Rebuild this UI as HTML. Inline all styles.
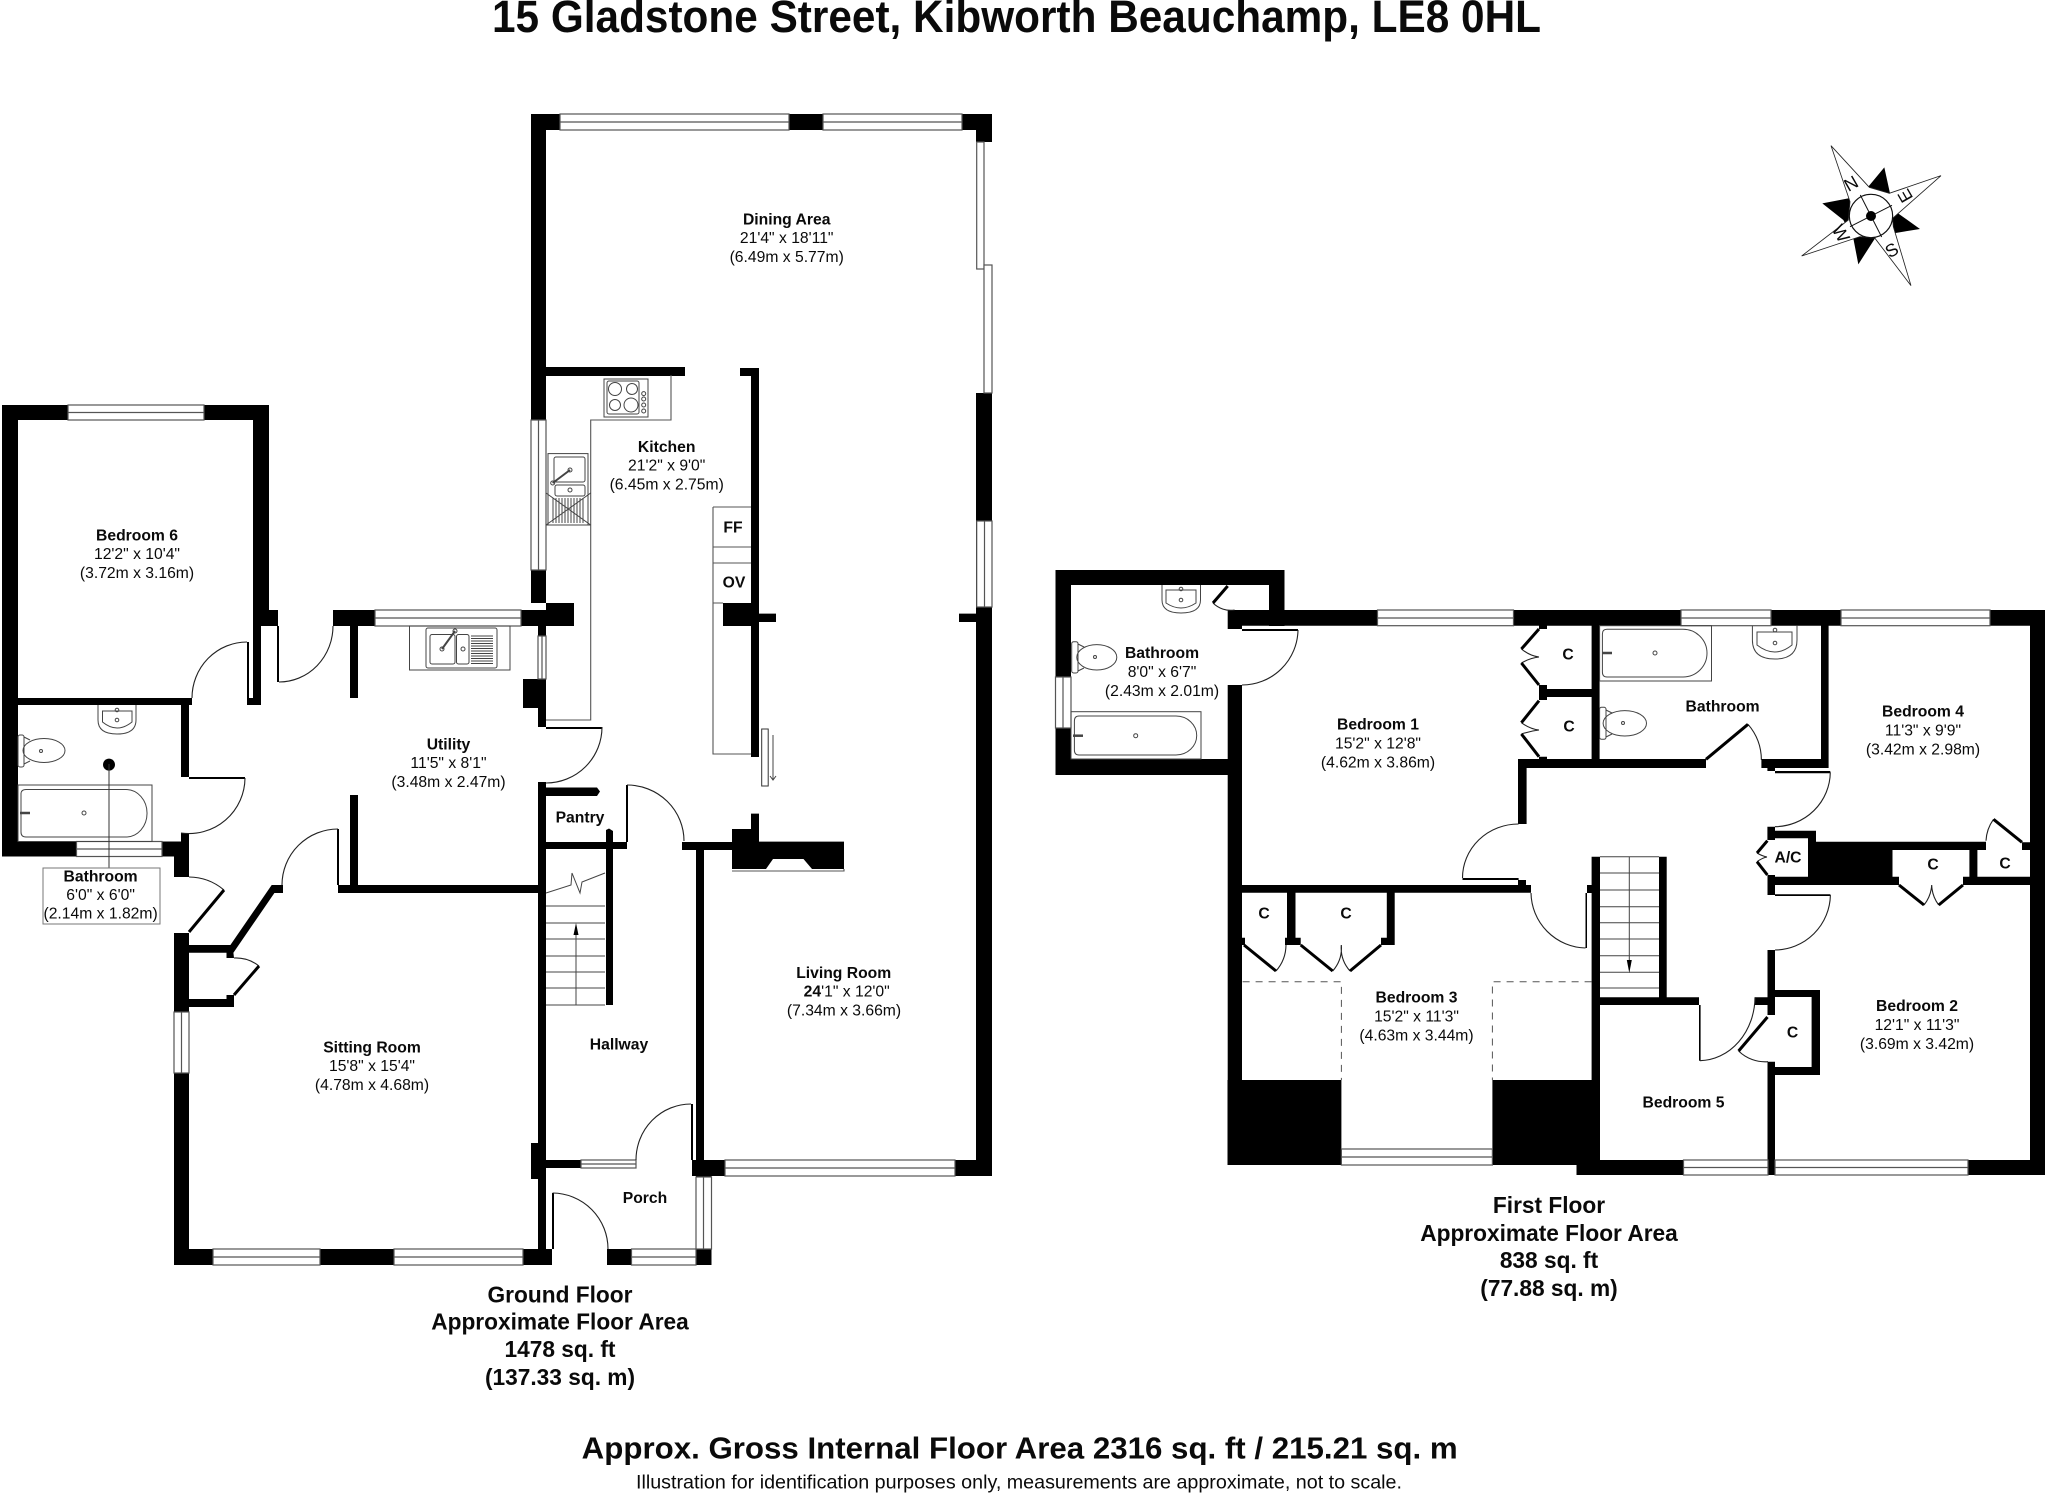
<!DOCTYPE html>
<html><head><meta charset="utf-8"><title>15 Gladstone Street floor plan</title>
<style>
html,body{margin:0;padding:0;background:#fff;width:2048px;height:1493px;overflow:hidden}
svg{display:block}
text{font-family:"Liberation Sans",Arial,sans-serif;fill:#0a0a0a}
.r text{font-size:15.7px;text-anchor:middle}
.b{font-weight:bold}
.w{fill:#fff;stroke:#555;stroke-width:1.2}
.m{stroke:#555;stroke-width:1.2;fill:none}
.a{fill:none;stroke:#222;stroke-width:1.1}
.l{fill:none;stroke:#000;stroke-width:3}
.f{fill:none;stroke:#444;stroke-width:1}
.g{fill:none;stroke:#555;stroke-width:1.1}
.d{fill:none;stroke:#555;stroke-width:1;stroke-dasharray:7 6}
.fl text{font-size:22.7px;font-weight:bold;text-anchor:middle}
</style></head><body>
<svg xmlns="http://www.w3.org/2000/svg" width="2048" height="1493" viewBox="0 0 2048 1493">
<rect width="2048" height="1493" fill="#fff"/>

<!-- title -->
<text x="492" y="32" font-size="45" font-weight="bold" textLength="1049" lengthAdjust="spacingAndGlyphs">15 Gladstone Street, Kibworth Beauchamp, LE8 0HL</text>

<!-- walls -->
<path fill="#000" d="
M2 405H68V420H2Z M204 405H269V420H204Z M2 405H18V856.5H2Z M253 405H269V610H253Z M253 610H278V626H253Z M253 626H261V705H253Z M247 698H261V705H247Z
M18 698H192V705H18Z M181 698H189V777H181Z M181 833H189V856.5H181Z M2 841.5H76.5V856.5H2Z M162 841.5H189V856.5H162Z M174 841.5H189V877H174Z
M333 610H375V626H333Z M350 626H358V698H350Z M350 795H358V885H350Z M338 885H546V893H338Z
M271.7 885H283V893H274.4L233.4 952.7L234 958H226.5V952.7H189V945H230.4Z
M174 933H189V1265H174Z M189 999H234V1007H189Z M226.5 995H234V1007H226.5Z
M531 114H546V603H531Z M521 610H546V626H521Z M546 603H574V626H546Z M538 626H546V727H538Z M538 782H546V1249H538Z M523 679H546V708H523Z M531 1143H546V1179H531Z
M546 1160H636V1168H546Z M174 1249H552V1265H174Z M607 1249H711.5V1265H607Z M692 1160H725V1176H692Z M696 1168H711.5V1177H696Z
M696 849H704V1160H696Z M682 842H732V850H682Z
M732 829H751V813.6H759V841.6H844V869H812L803.5 859H773L766 869H732Z
M751 368H759V757H751Z M740 368H759V376H740Z M546 367H685V376H546Z M723 603H751V626H723Z M759 613.6H776V622H759Z M959 613.6H977V622H959Z
M531 114H992V130H531Z M976 114H992V142H976Z M976 393H992V1176H976Z M955 1160H992V1176H955Z
M546 787.5H597L600 791.5L597 796H546Z M546 842H627V849H546Z M606 830L609 828.5L613 831V1005H606Z
M1055.5 570H1284.5V585H1055.5Z M1055.5 570H1071V775H1055.5Z M1055.5 759H1242V775H1055.5Z M1269 570H1284.5V626H1269Z M1227.7 610H2045V625.7H1227.7Z M1227.7 610H1242V629H1227.7Z M1227.7 685H1242V1165H1227.7Z
M1242 885H1531V892.7H1242Z M1539 625.7H1547V629H1539Z M1539 685H1547V700H1539Z M1539 689H1599V697H1539Z M1591.6 625.7H1599.6V768H1591.6Z M1539 756.7H1547V760H1539Z
M1518 759H1706V768H1518Z M1518 759H1526.6V824H1518Z M1518 880H1526V885H1518Z M1462.5 878H1518.6V880H1462.5Z
M1287 892.7H1295.5V945H1287Z M1285 937.7H1300.7V945H1285Z M1386.8 892.7H1394.7V945H1386.8Z M1381 937.7H1394.7V945H1381Z M1242 937.7H1245V945H1242Z
M1227.5 1080H1341.4V1165H1227.5Z M1492.4 1080H1600V1165H1492.4Z M1591.6 856.7H1600V1165H1591.6Z M1659 856.7H1666.7V1005H1659Z M1591.6 997.3H1699V1005H1591.6Z M1576.5 1160H1683.5V1175H1576.5Z
M1767.5 1061.7H1775V1175H1767.5Z M1767.5 950H1775V1015H1767.5Z M1755 997.3H1775V1005H1755Z M1767.5 875H1775V895H1767.5Z
M1775 990H1820V997H1775Z M1811.6 990H1820V1075H1811.6Z M1775 1067H1820V1075H1775Z
M1761.4 759H1828.6V768H1761.4Z M1821 625.7H1828.6V768H1821Z M1767.4 768H1775V771H1767.4Z M1775 771H1830.3V773.3H1775Z
M1767.4 826.7H1775V840H1767.4Z M1775 830.7H1816V838.3H1775Z M1808 830.7H1816V885H1808Z M1816 841.7H1892.5V885H1816Z M1775 876.7H1899V885H1775Z
M1892.5 841.7H1986V850H1892.5Z M1969.4 850H1977.4V885H1969.4Z M1963 876.7H2030V885H1963Z M2022 842.3H2030V850H2022Z M2030 610H2045V1175H2030Z M1968 1160H2045V1175H1968Z
M1587 885H1593V893H1587Z M1585.5 893H1587V948H1585.5Z
M1775 894.3H1830.4V896H1775Z M1699 1005H1700.6V1060.7H1699Z
M247 642H249V698H247Z M189 777H245V779H189Z M277 626H279V682H277Z M337 829H339V885H337Z M691 1104H693V1160H691Z M552 1193H554V1249H552Z M626 785H628V842H626Z M546 727H602V729H546Z M1242 629H1298V631H1242Z"/>

<!-- windows -->
<g class="w">
<rect x="68" y="405" width="136" height="15"/><rect x="76.5" y="841.5" width="85.5" height="15"/><rect x="375" y="610" width="146" height="16"/>
<rect x="213" y="1249" width="107" height="16"/><rect x="394" y="1249" width="129" height="16"/><rect x="631.5" y="1249" width="64.5" height="16"/>
<rect x="581" y="1160" width="55" height="8"/><rect x="560" y="114" width="229" height="16"/><rect x="823" y="114" width="139" height="16"/><rect x="725" y="1160" width="230" height="16"/>
<rect x="1377.5" y="610" width="136" height="15.7"/><rect x="1681" y="610" width="90" height="15.7"/><rect x="1841" y="610" width="149" height="15.7"/>
<rect x="1341.4" y="1149" width="151" height="16"/><rect x="1683.5" y="1160" width="84.5" height="15"/><rect x="1775" y="1160" width="193" height="15"/>
<rect x="174" y="1012" width="15" height="61"/><rect x="531" y="420" width="15" height="150"/><rect x="538" y="636" width="8" height="43"/><rect x="696" y="1177" width="15.5" height="72"/>
<rect x="976.7" y="142" width="7.3" height="127"/><rect x="984" y="265" width="8" height="128"/><rect x="976.7" y="521" width="15.3" height="86"/><rect x="1055.5" y="677" width="15.5" height="51"/>
</g>
<path class="m" d="M68 412.5H204M76.5 849H162M375 618H521M213 1257H320M394 1257H523M631.5 1257H696M581 1164H636M560 122H789M823 122H962M725 1168H955M1377.5 618H1513.5M1681 618H1771M1841 618H1990M1341.4 1157H1492.4M1683.5 1167.5H1768M1775 1167.5H1968M181.5 1012V1073M538.5 420V570M542 636V679M703.5 1177V1249M984.5 521V607M1063 677V728"/>

<!-- door arcs -->
<path class="a" d="M247 642A55 56 0 0 0 192 698M245 778A56 56 0 0 1 181 833M333 626A54 56 0 0 1 279 682M338 829A56 56 0 0 0 282 885M636 1160A55 56 0 0 1 691 1104M552.6 1193A56 56 0 0 1 608 1249M627 785A57 56 0 0 1 684 841M602 727A56 56 0 0 1 546 783M189 877A55 55 0 0 1 224 890M234 958A38 38 0 0 1 259 966
M1298 630A56 56 0 0 1 1242 685M1518.6 824A56 54 0 0 0 1462.5 878M1531 893A56 56 0 0 0 1585.5 948M1755 997.3A56 64 0 0 1 1700 1060.7M1830.4 895A56 56 0 0 1 1775 950M1830.3 772.3A56 55 0 0 1 1775 826.7
M1213 603A25 25 0 0 0 1234.6 610M1738.6 1051A38 38 0 0 0 1768 1061.7M1748 724.3A55 55 0 0 1 1761.4 760M1993.5 819.3A40 40 0 0 0 1986 840.7
M1276 971A40 40 0 0 0 1286 945M1332.7 971A35 35 0 0 0 1341.3 945M1341.3 945A35 35 0 0 0 1350 971M1924 905A35 35 0 0 0 1931.7 885M1931.7 885A35 35 0 0 0 1938.7 905
M1521.4 649Q1530 656 1539 657M1539 657Q1530 658 1521.4 663M1521.4 722.7Q1530 729 1539 730M1539 730Q1530 731 1521.4 734M1757 853Q1762 856 1767 857M1767 857Q1762 858 1757 861.7"/>
<!-- door leaves -->
<path class="l" d="M224 890L189 932M259 966L234 995M1227.7 586L1213 603M1539 629L1521.4 649M1539 685L1521.4 663M1539 700.7L1521.4 722.7M1539 756.7L1521.4 734M1244 945L1276 971M1300.7 945L1332.7 971M1350 971L1381 945M1706 759.3L1748 724.3M1767.5 1017L1738.6 1051M1767.4 840.7L1757 853M1757 861.7L1767.4 875M1899 885L1924 905M1938.7 905L1963 885M1993.5 819.3L2022 842.3"/>

<!-- stairs ground -->
<path class="f" d="M546 906H605M546 923H605M546 939H605M546 956H605M546 972H605M546 988H605M546 1005H605M576 1005V935M546 893L571 885L572 873L580 893L582 882L605 873"/>
<path d="M576 923L573.5 935H578.5Z" fill="#000"/>
<!-- stairs first -->
<path class="f" d="M1600 856.7H1659M1600 873H1659M1600 890H1659M1600 906.7H1659M1600 922.7H1659M1600 939H1659M1600 955.7H1659M1600 972.3H1659M1600 988H1659M1629.3 856.7V962"/>
<path d="M1629.3 973L1626.8 960H1631.8Z" fill="#000"/>

<!-- dashed eaves -->
<path class="d" d="M1242.6 981.7H1341.4V1080M1591.6 981.7H1492.4V1080"/>

<!-- kitchen counters -->
<path class="g" d="M671 375V420H590.7V720H546M713 507H751M713 547H751M713 563H751M713 507V754H751M713 603H723M732 871H844V869"/>
<rect x="761.7" y="729" width="6.5" height="57" fill="#fff" stroke="#333" stroke-width="1"/>
<path class="f" d="M773 735V780M770 776L773 780L776 776"/>
<!-- hob -->
<g class="f"><rect x="604" y="379" width="44" height="38"/><rect x="607" y="381" width="32" height="33" rx="2"/><circle cx="615" cy="389" r="6.5"/><circle cx="632" cy="389" r="5.5"/><circle cx="615" cy="405" r="5.5"/><circle cx="631" cy="405" r="7"/><circle cx="643.7" cy="393.6" r="2"/><circle cx="643.7" cy="399" r="2"/><circle cx="643.7" cy="405" r="2"/><circle cx="643.7" cy="411" r="2"/></g>
<!-- kitchen sink -->
<g class="f"><rect x="548" y="453.6" width="40" height="71.4"/><rect x="554" y="457" width="31" height="25" rx="2"/><rect x="555" y="485" width="30" height="11" rx="2"/><path d="M546 493L590.7 525M590.7 493L546 525M546 525H590.7"/><path d="M553 498V523M556 498V523M559 498V523M562 498V523M565 498V523M568 498V523M571 498V523M574 498V523M577 498V523M580 498V523M583 498V523"/><path d="M552.7 483L570 470" stroke-width="2"/><circle cx="570" cy="470" r="2"/><circle cx="552.7" cy="483" r="2"/><circle cx="570" cy="490" r="2"/></g>
<!-- utility sink -->
<g class="f"><rect x="409.5" y="626" width="100.5" height="44"/><rect x="426" y="628" width="71" height="40" rx="2"/><rect x="430" y="634.5" width="25" height="29.5" rx="2"/><rect x="456.5" y="634.5" width="12.5" height="29.5" rx="2"/><path d="M442 649L455 631" stroke-width="2"/><circle cx="442" cy="649" r="2"/><circle cx="455" cy="631" r="2"/><circle cx="463" cy="649" r="2"/><path d="M471 636H493M471 638.5H493M471 641H493M471 643.5H493M471 646H493M471 648.5H493M471 651H493M471 653.5H493M471 656H493M471 658.5H493M471 661H493M471 663.5H493"/></g>

<!-- Ground bathroom fixtures -->
<g class="f">
<path d="M98 705V720Q98 734 117 734Q136 734 136 720V705"/><path d="M102.5 711V722Q117 734 132 722V711Z"/><circle cx="117" cy="710" r="1.8"/><circle cx="117" cy="720" r="1.8"/>
<rect x="18" y="735" width="6" height="32" rx="2"/><path d="M24 737L30 740M24 764L30 761"/><ellipse cx="44" cy="750.5" rx="21" ry="12"/><circle cx="41" cy="751" r="1.5"/>
<rect x="18" y="785" width="134" height="56.5"/><path d="M26 789.5H126A21 23.7 0 0 1 126 837H26Q21 837 21 832V794Q21 789.5 26 789.5Z"/><circle cx="84" cy="813" r="2"/><path d="M20 813H30" stroke-width="2.5"/>
</g>
<circle cx="109" cy="764.6" r="6" fill="#000"/>
<path d="M109 764V868" stroke="#333" stroke-width="1"/>
<rect x="43" y="868" width="117" height="56" fill="#fff" stroke="#777" stroke-width="1"/>

<!-- upper-left bathroom fixtures -->
<g class="f">
<path d="M1162 585V600Q1162 613 1181 613Q1200.5 613 1200.5 600V585"/><path d="M1166 590V603Q1181 613 1196 603V590Z"/><circle cx="1181" cy="589" r="1.8"/><circle cx="1181" cy="600" r="1.8"/>
<rect x="1071.7" y="641.7" width="6.3" height="31.3" rx="2"/><path d="M1078 644L1084 647M1078 671L1084 668"/><ellipse cx="1096.8" cy="657.3" rx="20" ry="12.7"/><circle cx="1095" cy="657" r="1.5"/>
<rect x="1071" y="711.7" width="130" height="47.3"/><path d="M1079 716H1176A20.7 19.5 0 0 1 1176 755H1079Q1074.4 755 1074.4 750V721Q1074.4 716 1079 716Z"/><circle cx="1135.7" cy="735.7" r="2"/><path d="M1073 735.7H1083" stroke-width="2.5"/>
</g>
<!-- first bathroom fixtures -->
<g class="f">
<path d="M1752.4 625.7V640Q1752.4 659 1775 659Q1797 659 1797 640V625.7"/><path d="M1757 632V645Q1775 659 1792 645V632Z"/><circle cx="1775" cy="630" r="1.8"/><circle cx="1775" cy="643" r="1.8"/>
<rect x="1599.6" y="707.3" width="6.4" height="32" rx="2"/><path d="M1606 710L1612 713M1606 737L1612 734"/><ellipse cx="1624.8" cy="723.3" rx="21.7" ry="12.7"/><circle cx="1623" cy="723" r="1.5"/>
<rect x="1599.6" y="625.7" width="111.9" height="55.3"/><path d="M1607 629.3H1683A24 23.85 0 0 1 1683 677H1607Q1602.4 677 1602.4 672V634Q1602.4 629.3 1607 629.3Z"/><circle cx="1655" cy="653" r="2"/><path d="M1602 653H1612" stroke-width="2.5"/>
</g>

<!-- room labels -->
<g class="r">
<text x="786.7" y="224.5" class="b">Dining Area</text><text x="786.7" y="243">21'4" x 18'11"</text><text x="786.7" y="262">(6.49m x 5.77m)</text>
<text x="666.7" y="452" class="b">Kitchen</text><text x="666.7" y="470.6">21'2" x 9'0"</text><text x="666.7" y="489.4">(6.45m x 2.75m)</text>
<text x="733" y="532.5" class="b">FF</text><text x="734" y="587.5" class="b">OV</text>
<text x="580" y="822.5" class="b">Pantry</text>
<text x="448.5" y="749.5" class="b">Utility</text><text x="448.5" y="768">11'5" x 8'1"</text><text x="448.5" y="787">(3.48m x 2.47m)</text>
<text x="137" y="540.5" class="b">Bedroom 6</text><text x="137" y="559">12'2" x 10'4"</text><text x="137" y="578">(3.72m x 3.16m)</text>
<text x="100.6" y="881.5" class="b">Bathroom</text><text x="100.6" y="900">6'0" x 6'0"</text><text x="100.6" y="918.5">(2.14m x 1.82m)</text>
<text x="372" y="1052.5" class="b">Sitting Room</text><text x="372" y="1071">15'8" x 15'4"</text><text x="372" y="1090">(4.78m x 4.68m)</text>
<text x="619" y="1049.5" class="b">Hallway</text>
<text x="645" y="1203" class="b">Porch</text>
<text x="843.7" y="978" class="b">Living Room</text><text x="846.7" y="996.7"><tspan class="b">24</tspan>'1" x 12'0"</text><text x="844" y="1015.5">(7.34m x 3.66m)</text>
<text x="1162" y="658" class="b">Bathroom</text><text x="1162" y="677">8'0" x 6'7"</text><text x="1162" y="696">(2.43m x 2.01m)</text>
<text x="1378" y="729.5" class="b">Bedroom 1</text><text x="1378" y="748.5">15'2" x 12'8"</text><text x="1378" y="767.5">(4.62m x 3.86m)</text>
<text x="1568" y="659.5" class="b">C</text><text x="1569" y="731.5" class="b">C</text><text x="1264" y="918.5" class="b">C</text><text x="1346" y="918.5" class="b">C</text>
<text x="1722.6" y="711.5" class="b">Bathroom</text>
<text x="1923" y="716.5" class="b">Bedroom 4</text><text x="1923" y="735.5">11'3" x 9'9"</text><text x="1923" y="754.5">(3.42m x 2.98m)</text>
<text x="1933" y="869.5" class="b">C</text><text x="2005" y="868.5" class="b">C</text><text x="1788" y="862.5" class="b">A/C</text>
<text x="1917" y="1011" class="b">Bedroom 2</text><text x="1917" y="1030">12'1" x 11'3"</text><text x="1917" y="1049">(3.69m x 3.42m)</text>
<text x="1416.5" y="1002.5" class="b">Bedroom 3</text><text x="1416.5" y="1021.5">15'2" x 11'3"</text><text x="1416.5" y="1040.5">(4.63m x 3.44m)</text>
<text x="1683.5" y="1107.5" class="b">Bedroom 5</text>
<text x="1792.5" y="1037.5" class="b">C</text>
</g>

<!-- floor captions -->
<g class="fl">
<text x="560" y="1302.3">Ground Floor</text><text x="560" y="1329.5">Approximate Floor Area</text><text x="560" y="1357">1478 sq. ft</text><text x="560" y="1385">(137.33 sq. m)</text>
<text x="1549" y="1213">First Floor</text><text x="1549" y="1241">Approximate Floor Area</text><text x="1549" y="1268">838 sq. ft</text><text x="1549" y="1296">(77.88 sq. m)</text>
</g>

<text x="581.7" y="1458.3" font-size="31" font-weight="bold" textLength="876" lengthAdjust="spacingAndGlyphs">Approx. Gross Internal Floor Area 2316 sq. ft / 215.21 sq. m</text>
<text x="636" y="1488.3" font-size="19.2" textLength="766" lengthAdjust="spacingAndGlyphs">Illustration for identification purposes only, measurements are approximate, not to scale.</text>

<!-- compass -->
<g transform="translate(1780 130) scale(.3333)">
<path d="M313 112L330 190L350 247L420 297L340 310L285 325L235 403L220 325L190 270L127 220L205 205L265 170Z" fill="#000"/>
<path d="M153 47L268 172L328 190L483 137L338 265L340 290L393 467L285 325L240 320L65 378L205 270L210 215Z" fill="#fff" stroke="#222" stroke-width="2.5"/>
<circle cx="273" cy="258" r="65" fill="#fff" stroke="#111" stroke-width="3.5"/>
<path d="M241 195L305 321M210 290L336 226" stroke="#111" stroke-width="3"/>
<circle cx="273" cy="258" r="15" fill="#000"/>
<text transform="translate(213 160) rotate(-30)" font-size="54" text-anchor="middle" dy="19">N</text>
<text transform="translate(375 198) rotate(-120)" font-size="54" text-anchor="middle" dy="19">E</text>
<text transform="translate(335 360) rotate(-30)" font-size="54" text-anchor="middle" dy="19">S</text>
<text transform="translate(183 310) rotate(60)" font-size="54" text-anchor="middle" dy="19">W</text>
</g>
</svg>
</body></html>
